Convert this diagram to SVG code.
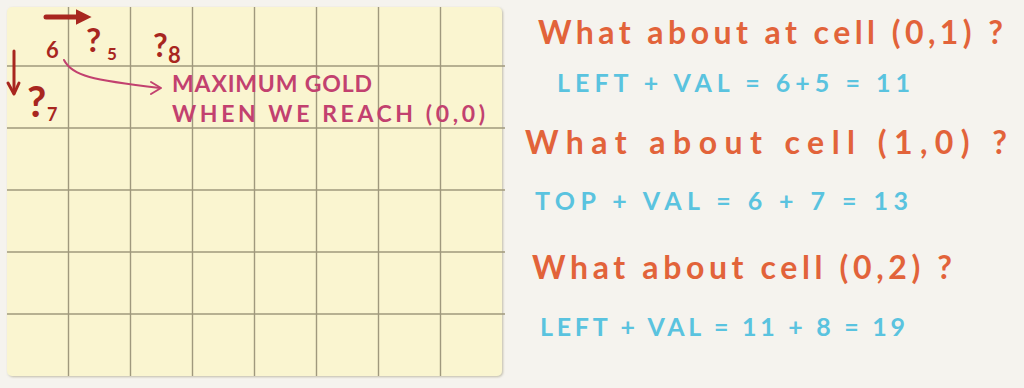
<svg xmlns="http://www.w3.org/2000/svg" width="1024" height="388" viewBox="0 0 1024 388">
  <style>
    .grid line { stroke: #9f987d; stroke-width: 1.4; }
    .red { fill: #a8261f; font-family: "Lato", "Noto Sans", sans-serif; font-weight: bold; }
    .pink { fill: #c2416f; font-family: "Lato", "Noto Sans", sans-serif; font-weight: bold; font-size: 23px; }
    .orange { fill: #e2633a; font-family: "Lato", "Noto Sans", sans-serif; font-weight: bold; font-size: 32px; }
    .blue { fill: #5ac3df; font-family: "Lato", "Noto Sans", sans-serif; font-weight: bold; font-size: 25px; }
  </style>
  <defs>
    <marker id="headRed" viewBox="0 0 10 10" refX="4" refY="5" markerWidth="3.2" markerHeight="3.2" orient="auto">
      <path d="M0,0 L10,5 L0,10 Z" fill="#a8261f"/>
    </marker>
    <filter id="paperShadow" x="-5%" y="-5%" width="110%" height="110%">
      <feDropShadow dx="1" dy="1" stdDeviation="1" flood-color="#8a8466" flood-opacity="0.5"/>
    </filter>
  </defs>

  <!-- page background -->
  <rect width="1024" height="388" fill="#f5f3ee"/>

  <!-- yellow graph paper -->
  <g id="paper">
    <rect x="7" y="7" width="495" height="369" rx="5" fill="#faf5d0" filter="url(#paperShadow)"/>
    <g class="grid">
      <line x1="68.5" y1="7" x2="68.5" y2="376"/>
      <line x1="130.5" y1="7" x2="130.5" y2="376"/>
      <line x1="192.5" y1="7" x2="192.5" y2="376"/>
      <line x1="254.5" y1="7" x2="254.5" y2="376"/>
      <line x1="316.5" y1="7" x2="316.5" y2="376"/>
      <line x1="378.5" y1="7" x2="378.5" y2="376"/>
      <line x1="440.5" y1="7" x2="440.5" y2="376"/>
      <line x1="7" y1="66" x2="505" y2="66"/>
      <line x1="7" y1="128" x2="505" y2="128"/>
      <line x1="7" y1="190" x2="505" y2="190"/>
      <line x1="7" y1="252" x2="505" y2="252"/>
      <line x1="7" y1="314" x2="505" y2="314"/>
    </g>
  </g>

  <!-- cell values on the grid -->
  <g id="cell-0-0">
    <text class="red" x="46" y="58" font-size="22">6</text>
  </g>
  <g id="cell-0-1">
    <text class="red" x="86" y="52" font-size="33">?</text>
    <text class="red" x="107" y="60" font-size="17">5</text>
  </g>
  <g id="cell-0-2">
    <text class="red" x="153" y="57" font-size="32">?</text>
    <text class="red" x="168" y="63" font-size="22">8</text>
  </g>
  <g id="cell-1-0">
    <text class="red" x="27" y="117" font-size="42">?</text>
    <text class="red" x="47" y="121" font-size="18">7</text>
  </g>

  <!-- note on the grid -->
  <g id="note">
    <text class="pink" x="172" y="92" textLength="200" lengthAdjust="spacing">MAXIMUM GOLD</text>
    <text class="pink" x="172" y="122" textLength="313" lengthAdjust="spacing">WHEN WE REACH (0,0)</text>
  </g>

  <!-- arrows -->
  <g id="connectors" fill="none" stroke-linecap="round" stroke-linejoin="round">
    <line x1="46" y1="17" x2="82" y2="17" stroke="#a8261f" stroke-width="5" marker-end="url(#headRed)"/>
    <line x1="14" y1="51" x2="14" y2="93" stroke="#a8261f" stroke-width="3"/>
    <path d="M8,83 L14,94 L19,83" stroke="#a8261f" stroke-width="3"/>
    <path d="M64,60 C72,76 92,80 160,88" stroke="#c2416f" stroke-width="2"/>
    <path d="M151,82 L161,88 L151,94" stroke="#c2416f" stroke-width="2"/>
  </g>

  <!-- worked steps -->
  <g id="step-0-1">
    <text class="orange" x="538" y="44" textLength="465" lengthAdjust="spacing">What about at cell (0,1) ?</text>
    <text class="blue" x="557" y="92" textLength="353" lengthAdjust="spacing">LEFT + VAL = 6+5 = 11</text>
  </g>
  <g id="step-1-0">
    <text class="orange" x="525" y="154" textLength="482" lengthAdjust="spacing">What about cell (1,0) ?</text>
    <text class="blue" x="535" y="210" textLength="373" lengthAdjust="spacing">TOP + VAL = 6 + 7 = 13</text>
  </g>
  <g id="step-0-2">
    <text class="orange" x="532" y="279" textLength="420" lengthAdjust="spacing">What about cell (0,2) ?</text>
    <text class="blue" x="540" y="336" textLength="365" lengthAdjust="spacing">LEFT + VAL = 11 + 8 = 19</text>
  </g>
</svg>
